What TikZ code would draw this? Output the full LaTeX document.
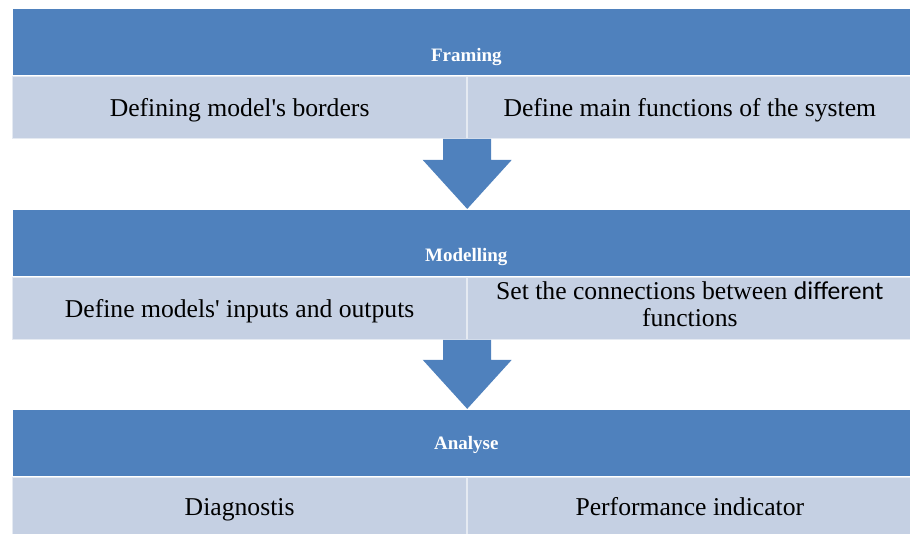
\documentclass[tikz,border=0pt]{standalone}
\usepackage{fontspec}
\setmainfont{Liberation Serif}
\newfontfamily\calfont{Carlito}
\usetikzlibrary{positioning,calc}

\definecolor{bandblue}{HTML}{4F81BD}
\definecolor{rowgrey}{HTML}{C5D0E3}

\tikzset{
  band/.style={fill=bandblue, draw=white, line width=0.4pt, anchor=north west,
    minimum width=17.96cm, minimum height=1.34cm, inner sep=0pt},
  cell/.style={fill=rowgrey, draw=white!55!rowgrey, line width=0.7pt, anchor=north west,
    minimum height=1.24cm, inner sep=2pt, align=center,
    font=\fontsize{14.6}{15.4}\selectfont,
    execute at begin node={\rule[-0.3em]{0pt}{1.3em}}},
  bandtitle/.style={text=white, inner sep=0pt, font=\bfseries\fontsize{10.8}{13}\selectfont},
}

% block arrow from the bottom of one row down to the next band
\newcommand{\flowarrow}[2]{%
  \fill[bandblue] let \p1=(#1), \p2=(#2) in
    (\x1-0.48cm,\y1) -- (\x1+0.48cm,\y1) -- (\x1+0.48cm,\y2+0.98cm)
    -- (\x1+0.89cm,\y2+0.98cm) -- (\x1,\y2) -- (\x1-0.89cm,\y2+0.98cm)
    -- (\x1-0.48cm,\y2+0.98cm) -- cycle;}

\begin{document}
\begin{tikzpicture}
  \useasboundingbox (0,0) rectangle (18.2,-10.68);

  % framing
  \node[band] (frame) at (0.24,-0.16) {};
  \node[bandtitle] (frametitle) at ($(frame.center)+(0.1,-0.31)$) {Framing};
  \node[cell, minimum width=9.08cm] (borders) at (frame.south west) {Defining model\textquotesingle s borders};
  \node[cell, minimum width=8.88cm] (functions) at (borders.north east) {Define main functions of the system};

  % modelling
  \node[band, below=1.4cm of borders.south west, anchor=north west] (model) {};
  \node[bandtitle] (modeltitle) at ($(model.center)+(0.1,-0.29)$) {Modelling};
  \node[cell, minimum width=9.08cm] (inout) at (model.south west) {Define models\textquotesingle{} inputs and outputs};
  \node[cell, minimum width=8.88cm] (connect) at (inout.north east) {Set the connections between {\calfont different}\\functions};

  % analyse
  \node[band, below=1.38cm of inout.south west, anchor=north west] (analyse) {};
  \node[bandtitle] (analysetitle) at ($(analyse.center)+(0.1,-0.04)$) {Analyse};
  \node[cell, minimum width=9.08cm, minimum height=1.16cm] (diag) at (analyse.south west) {Diagnostis};
  \node[cell, minimum width=8.88cm, minimum height=1.16cm] (perf) at (diag.north east) {Performance indicator};

  \coordinate (split1) at (borders.south east);
  \coordinate (split2) at (inout.south east);
  \flowarrow{split1}{split1 |- model.north}
  \flowarrow{split2}{split2 |- analyse.north}
\end{tikzpicture}
\end{document}
